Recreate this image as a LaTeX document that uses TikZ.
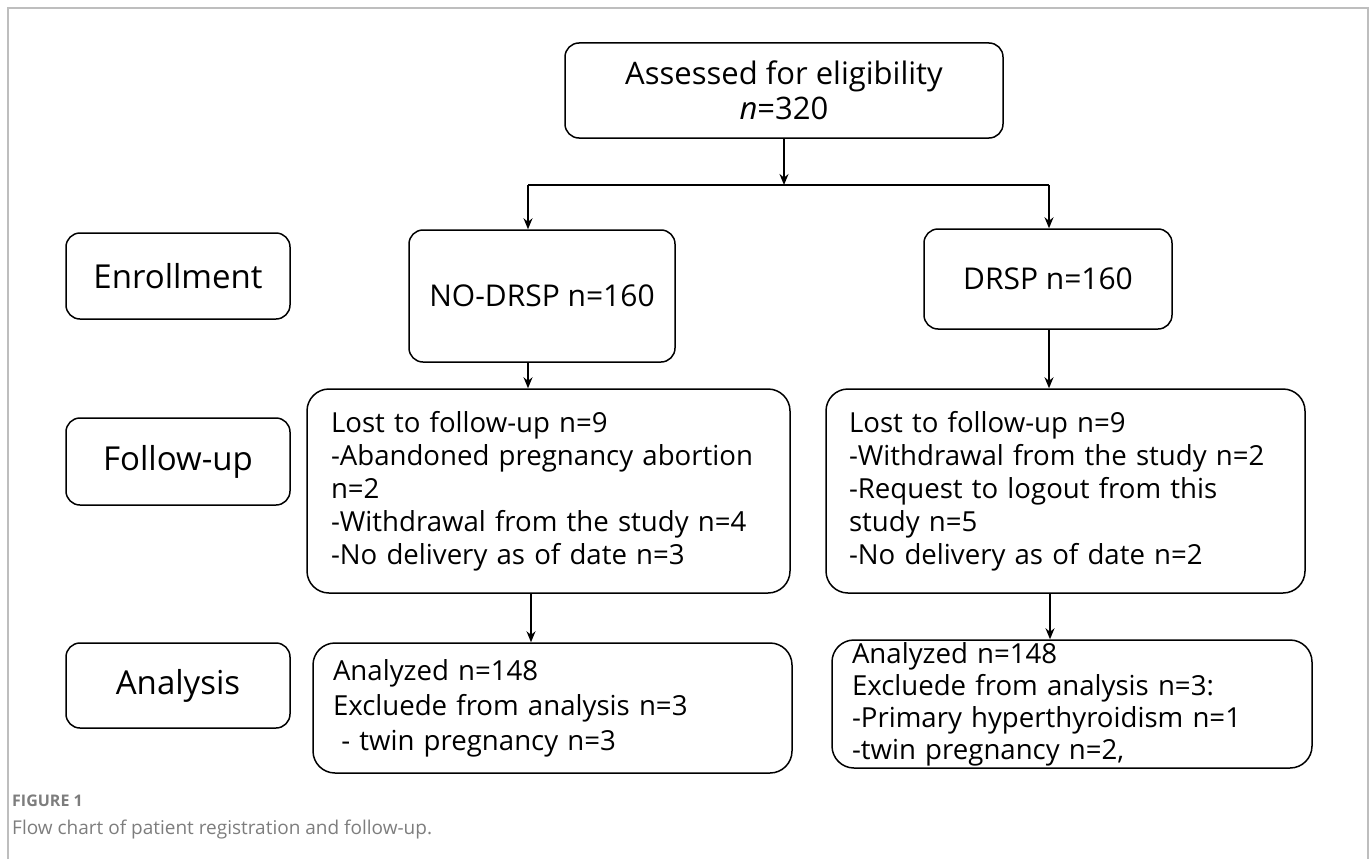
\documentclass[tikz,border=0pt]{standalone}
\usepackage{fontspec}
\setmainfont{Open Sans}
\usetikzlibrary{arrows.meta}
\definecolor{framegrey}{RGB}{190,190,190}
\definecolor{capgrey}{RGB}{125,125,125}
\tikzset{
  box/.style={draw, line width=1.5pt, rounded corners=14pt, inner sep=0pt, align=center},
  bigbox/.style={draw, line width=1.5pt, rounded corners=22pt, inner sep=0pt, align=left},
  lab/.style={box, font=\fontsize{33}{38}\selectfont},
  arr/.style={line width=1.5pt, -{Stealth[length=11pt,width=9pt]}},
  ln/.style={line width=1.5pt}
}
\begin{document}
\begin{tikzpicture}[x=1pt,y=-1pt]
\useasboundingbox (0,0) rectangle (1372,859);
% frame
\draw[framegrey, line width=1.5pt] (8,859) -- (8,8) -- (1368,8) -- (1368,859);

% top box
\node[box, minimum width=438pt, minimum height=95pt, font=\fontsize{31}{37}\selectfont] (assess) at (784,90.5) {Assessed for eligibility\\[-2pt]\textit{n}=320};

% stage labels
\node[lab, minimum width=224pt, minimum height=86pt] (enr) at (178,276) {Enrollment};
\node[lab, minimum width=224pt, minimum height=87pt] (ful) at (178,461.5) {Follow-up};
\node[lab, minimum width=224pt, minimum height=85pt] (anl) at (178,685.5) {Analysis};

% enrollment boxes
\node[box, minimum width=266pt, minimum height=132pt, font=\fontsize{30}{36}\selectfont] (nodrsp) at (542,296) {NO-DRSP n=160};
\node[box, minimum width=248pt, minimum height=100pt, font=\fontsize{30}{36}\selectfont] (drsp) at (1048,279) {DRSP n=160};

% follow-up boxes
\node[bigbox, minimum height=204pt, text width=435pt, inner xsep=24pt, font=\fontsize{27.6}{33}\selectfont] (fu1) at (548.5,491) {Lost to follow-up n=9\\-Abandoned pregnancy abortion\\n=2\\-Withdrawal from the study n=4\\-No delivery as of date n=3};
\node[bigbox, minimum height=204pt, text width=433pt, inner xsep=23pt, font=\fontsize{27.6}{33}\selectfont] (fu2) at (1065.5,491) {Lost to follow-up n=9\\-Withdrawal from the study n=2\\-Request to logout from this\\study n=5\\-No delivery as of date n=2};

% analysis boxes
\node[bigbox, minimum height=130pt, text width=439pt, inner xsep=20pt, font=\fontsize{27.6}{35}\selectfont] (an1) at (552.5,708) {Analyzed n=148\\Excluede from analysis n=3\\\hspace{0.3em}- twin pregnancy n=3};
\node[bigbox, minimum height=128pt, text width=440pt, inner xsep=20pt, font=\fontsize{27.6}{32}\selectfont] (an2) at (1072,704) {Analyzed n=148\\Excluede from analysis n=3:\\-Primary hyperthyroidism n=1\\-twin pregnancy n=2,};

% connectors
\coordinate (split) at (784,185);
\coordinate (cl) at (528,185);
\coordinate (cr) at (1049,185);
\draw[arr] (assess.south -| split) -- (split);
\draw[ln] (cl) -- (cr);
\draw[arr] (cl) -- (cl |- nodrsp.north);
\draw[arr] (cr) -- (cr |- drsp.north);
\draw[arr] (cl |- nodrsp.south) -- (cl |- fu1.north);
\draw[arr] (cr |- drsp.south) -- (cr |- fu2.north);
\coordinate (dl) at (531,600);
\coordinate (dr) at (1050,600);
\draw[arr] (dl |- fu1.south) -- (dl |- an1.north);
\draw[arr] (dr |- fu2.south) -- (dr |- an2.north);

% caption
\node[anchor=base west, inner sep=0pt, text=capgrey, font=\fontsize{16}{19}\selectfont\bfseries] (figlab) at (12,806) {FIGURE 1};
\node[anchor=base west, inner sep=0pt, text=capgrey, font=\fontsize{19}{23}\selectfont] (cap) at (12,834) {Flow chart of patient registration and follow-up.};
\end{tikzpicture}
\end{document}
